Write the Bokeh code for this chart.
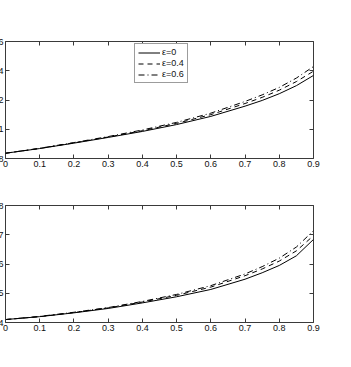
from bokeh.plotting import figure
from bokeh.models import Range1d, FixedTicker, LinearAxis, Legend, LegendItem, Column
from bokeh.embed import file_html
from bokeh.resources import INLINE

# ---- data ----
x = [0.0, 0.1, 0.2, 0.3, 0.4, 0.5, 0.6, 0.7, 0.75, 0.8, 0.85, 0.9]
top_eps0 = [0.0836, 0.0868, 0.0905, 0.0944, 0.0985, 0.1032, 0.1088, 0.1158, 0.1197, 0.1243, 0.1298, 0.1368]
top_eps04 = [0.0836, 0.0869, 0.0907, 0.0947, 0.0990, 0.1040, 0.1100, 0.1176, 0.1218, 0.1267, 0.1326, 0.1397]
top_eps06 = [0.0836, 0.0870, 0.0909, 0.0950, 0.0995, 0.1047, 0.1110, 0.1190, 0.1235, 0.1286, 0.1350, 0.1429]
bot_eps0 = [0.410, 0.420, 0.433, 0.448, 0.467, 0.488, 0.513, 0.548, 0.570, 0.595, 0.628, 0.684]
bot_eps04 = [0.410, 0.420, 0.434, 0.450, 0.470, 0.493, 0.521, 0.560, 0.583, 0.610, 0.645, 0.697]
bot_eps06 = [0.410, 0.421, 0.435, 0.451, 0.472, 0.496, 0.526, 0.566, 0.591, 0.620, 0.658, 0.714]
legend_labels = ["ε=0", "ε=0.4", "ε=0.6"]

xticks = [0, 0.1, 0.2, 0.3, 0.4, 0.5, 0.6, 0.7, 0.8, 0.9]
xtick_labels = ["0", "0.1", "0.2", "0.3", "0.4", "0.5", "0.6", "0.7", "0.8", "0.9"]
top_yticks = [0.08, 0.1, 0.12, 0.14, 0.16]
top_ytick_labels = ["0.08", "0.1", "0.12", "0.14", "0.16"]
bot_yticks = [0.4, 0.5, 0.6, 0.7, 0.8]
bot_ytick_labels = ["0.4", "0.5", "0.6", "0.7", "0.8"]

FONT = "Liberation Sans"
FRAME = "#3a3a3a"


def style_axis(ax, ticks, labels, show_labels=True):
    ax.ticker = FixedTicker(ticks=ticks)
    if show_labels:
        ax.major_label_overrides = {t: l for t, l in zip(ticks, labels)}
    else:
        ax.major_label_overrides = {t: "" for t in ticks}
    ax.major_tick_in = 4
    ax.major_tick_out = 0
    ax.minor_tick_line_color = None
    ax.axis_line_color = None
    ax.major_tick_line_color = FRAME
    ax.major_label_text_font = FONT
    ax.major_label_text_font_size = "9px"
    ax.major_label_text_color = "#111111"
    ax.major_label_standoff = 2 if show_labels else 0


def make_panel(ys, yr, yticks, ylabels, top, bottom, with_legend):
    p = figure(width=358, height=top + 117 + bottom, output_backend="svg",
               toolbar_location=None, x_range=Range1d(0, 0.9), y_range=Range1d(*yr),
               min_border_left=30, min_border_right=20, min_border_top=top,
               min_border_bottom=bottom)
    p.xgrid.visible = False
    p.ygrid.visible = False
    p.outline_line_color = FRAME
    p.outline_line_width = 1
    p.background_fill_color = "white"
    p.border_fill_color = "white"
    style_axis(p.xaxis[0], xticks, xtick_labels)
    style_axis(p.yaxis[0], yticks, ylabels)
    ra = LinearAxis()
    style_axis(ra, yticks, ylabels, show_labels=False)
    p.add_layout(ra, "right")
    ta = LinearAxis()
    style_axis(ta, xticks, xtick_labels, show_labels=False)
    p.add_layout(ta, "above")

    r0 = p.line(x, ys[0], line_color="black", line_width=1)
    r1 = p.line(x, ys[1], line_color="black", line_width=1, line_dash="5 4")
    r2 = p.line(x, ys[2], line_color="black", line_width=1, line_dash="6 3 1 3")
    if with_legend:
        leg = Legend(items=[LegendItem(label=legend_labels[0], renderers=[r0]),
                            LegendItem(label=legend_labels[1], renderers=[r1]),
                            LegendItem(label=legend_labels[2], renderers=[r2])],
                     location=(129, 75))
        leg.label_text_font = FONT
        leg.label_text_font_size = "9px"
        leg.label_text_color = "#111111"
        leg.label_height = 9
        leg.glyph_height = 9
        leg.glyph_width = 22
        leg.label_standoff = 2
        leg.spacing = 1
        leg.padding = 3
        leg.margin = 0
        leg.border_line_color = FRAME
        leg.border_line_width = 1
        leg.background_fill_color = "white"
        leg.background_fill_alpha = 1
        p.add_layout(leg, "center")
    return p


p1 = make_panel([top_eps0, top_eps04, top_eps06], (0.08, 0.16), top_yticks, top_ytick_labels,
                41, 23, True)
p2 = make_panel([bot_eps0, bot_eps04, bot_eps06], (0.4, 0.8), bot_yticks, bot_ytick_labels,
                24, 25, False)

layout = Column(children=[p1, p2], spacing=0, styles={"margin-left": "-25px"})

open("out.html", "w").write(file_html(layout, INLINE))
